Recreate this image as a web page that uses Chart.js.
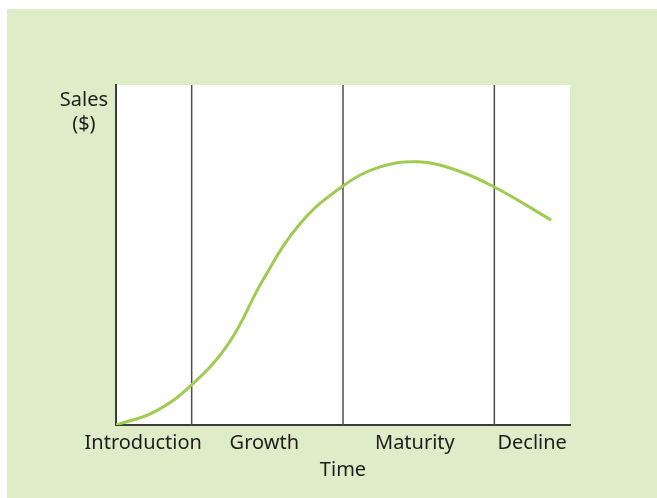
<!DOCTYPE html>
<html>
<head>
<meta charset="utf-8">
<script src="https://cdn.jsdelivr.net/npm/chart.js@4"></script>
<style>
  html, body { margin: 0; padding: 0; background: #fff; }
  #panel { position: absolute; left: 7px; top: 9px; width: 650px; height: 489px; background: #dfecc8; }
  #plc { display: block; }
</style>
</head>
<body>
<div id="panel"><canvas id="plc" width="650" height="489"></canvas></div>
<script>
// product life cycle curve (time in stage units, sales 0-100)
const times = [0, 0.5, 1, 1.5, 1.94, 2.43, 3, 3.49, 3.99, 4.49, 5, 5.75];
const sales = [0, 3.8, 11.8, 24.4, 42.6, 59.1, 70.3, 75.9, 77.4, 75, 70, 60.3];

// stage names and where they sit on the time axis
const stages = ['Introduction', 'Growth', 'Maturity', 'Decline'];
const stageLabelAt = [0.36, 1.96, 3.95, 5.5];
const stageBounds = [1, 3, 5];

const salesTickAt = 92;

const textColor = '#1f1c1d';
const font = { family: 'Noto Sans', size: 20 };

// white plot background
const plotBg = {
  id: 'plotBg',
  beforeDraw(chart) {
    const a = chart.chartArea;
    const ctx = chart.ctx;
    ctx.save();
    ctx.fillStyle = '#ffffff';
    ctx.fillRect(a.left, a.top, a.right - a.left, a.bottom - a.top);
    ctx.restore();
  }
};

const datasets = [{
  data: times.map((t, i) => ({ x: t, y: sales[i] })),
  borderColor: '#9fcb50',
  borderWidth: 3,
  pointRadius: 0,
  tension: 0.4,
  fill: false
}];

stageBounds.forEach(b => {
  datasets.push({
    data: [{ x: b, y: 0 }, { x: b, y: 100 }],
    borderColor: '#4d4d4d',
    borderWidth: 1.5,
    pointRadius: 0,
    fill: false
  });
});

new Chart(document.getElementById('plc'), {
  type: 'line',
  data: { datasets: datasets },
  options: {
    responsive: false,
    animation: false,
    layout: { padding: { left: 35, right: 87, top: 76, bottom: 0 } },
    plugins: { legend: { display: false }, tooltip: { enabled: false } },
    scales: {
      x: {
        type: 'linear',
        min: 0,
        max: 6,
        grid: { display: false, drawTicks: false },
        border: { display: true, color: '#3d3d3d', width: 2 },
        afterBuildTicks(scale) {
          scale.ticks = stageLabelAt.map(v => ({ value: v }));
        },
        afterFit(scale) { scale.height = 73; },
        ticks: {
          padding: 6,
          color: textColor,
          font: font,
          maxRotation: 0,
          autoSkip: false,
          callback: (v, i) => stages[i]
        },
        title: {
          display: true,
          text: 'Time',
          color: textColor,
          font: font,
          padding: { top: 0, bottom: 16 }
        }
      },
      y: {
        min: 0,
        max: 100,
        grid: { display: false, drawTicks: false },
        border: { display: true, color: '#3d3d3d', width: 2 },
        afterBuildTicks(scale) {
          scale.ticks = [{ value: salesTickAt }];
        },
        afterFit(scale) { scale.width = 74; },
        ticks: {
          crossAlign: 'center',
          padding: 8,
          color: textColor,
          font: font,
          callback: () => ['Sales', '($)']
        }
      }
    }
  },
  plugins: [plotBg]
});
</script>
</body>
</html>
